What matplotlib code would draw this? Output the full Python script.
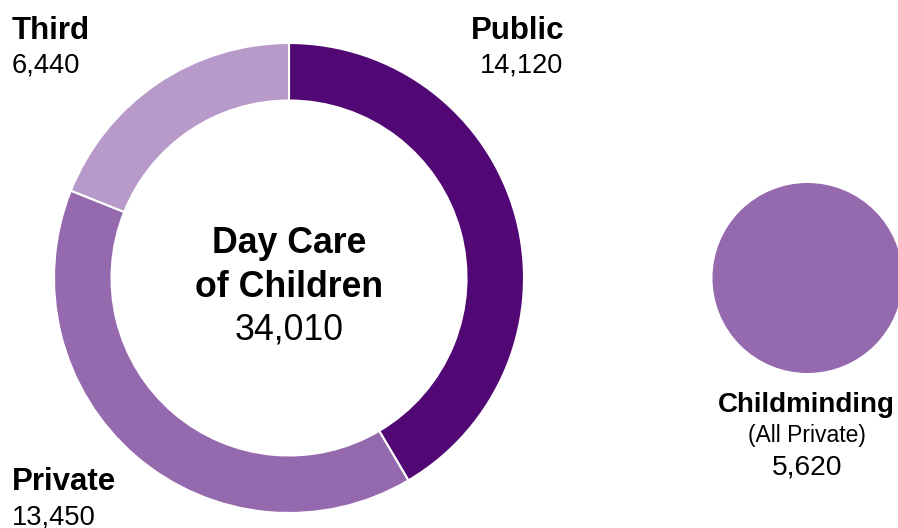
import matplotlib
matplotlib.use("Agg")
import matplotlib.pyplot as plt
from matplotlib.patches import Circle

FAM = "Liberation Sans"
plt.rcParams['font.family'] = [FAM, 'DejaVu Sans']

# Data
categories = ["Public", "Private", "Third"]
values = [14120, 13450, 6440]
total_label = "34,010"
center_lines = ["Day Care", "of Children"]
childminding_label = "Childminding"
childminding_sub = "(All Private)"
childminding_value = 5620

colors = ["#510874", "#9569AD", "#B89ACA"]

W, H = 898, 528
fig = plt.figure(figsize=(W / 100, H / 100), dpi=100)
ax = fig.add_axes([0, 0, 1, 1])

def Y(y):
    return H - y

cx, cy, R, ring = 289, 278, 235, 57.5
ax.pie(values, colors=colors, startangle=90, counterclock=False,
       radius=R, center=(cx, Y(cy)),
       wedgeprops=dict(width=ring, edgecolor="white", linewidth=1.5))

# Childminding circle
ax.add_patch(Circle((807.5, Y(278)), 95, facecolor=colors[1], edgecolor="none"))

ax.set_xlim(0, W)
ax.set_ylim(0, H)
ax.set_aspect("equal")
ax.axis("off")

def fmt(v):
    return f"{v:,}"

def txt(x, y, s, ha, size, bold=False):
    ax.text(x, Y(y), s, ha=ha, va="baseline", fontsize=size,
            fontweight="bold" if bold else "normal", family=FAM, color="black")

# Center text
txt(cx, 253, center_lines[0], "center", 25.7, True)
txt(cx, 297, center_lines[1], "center", 25.7, True)
txt(cx, 340, total_label, "center", 25.7)

# Segment labels
txt(12, 39, categories[2], "left", 22.5, True)
txt(12, 73, fmt(values[2]), "left", 19.7)

txt(564, 39, categories[0], "right", 22.5, True)
txt(563, 73, fmt(values[0]), "right", 19.5)

txt(12, 490, categories[1], "left", 22.5, True)
txt(12, 525, fmt(values[1]), "left", 19.7)

# Childminding labels
txt(806, 412, childminding_label, "center", 20, True)
txt(807, 442, childminding_sub, "center", 16.5)
txt(807, 475, fmt(childminding_value), "center", 20.3)

fig.savefig("out.png", dpi=100)
